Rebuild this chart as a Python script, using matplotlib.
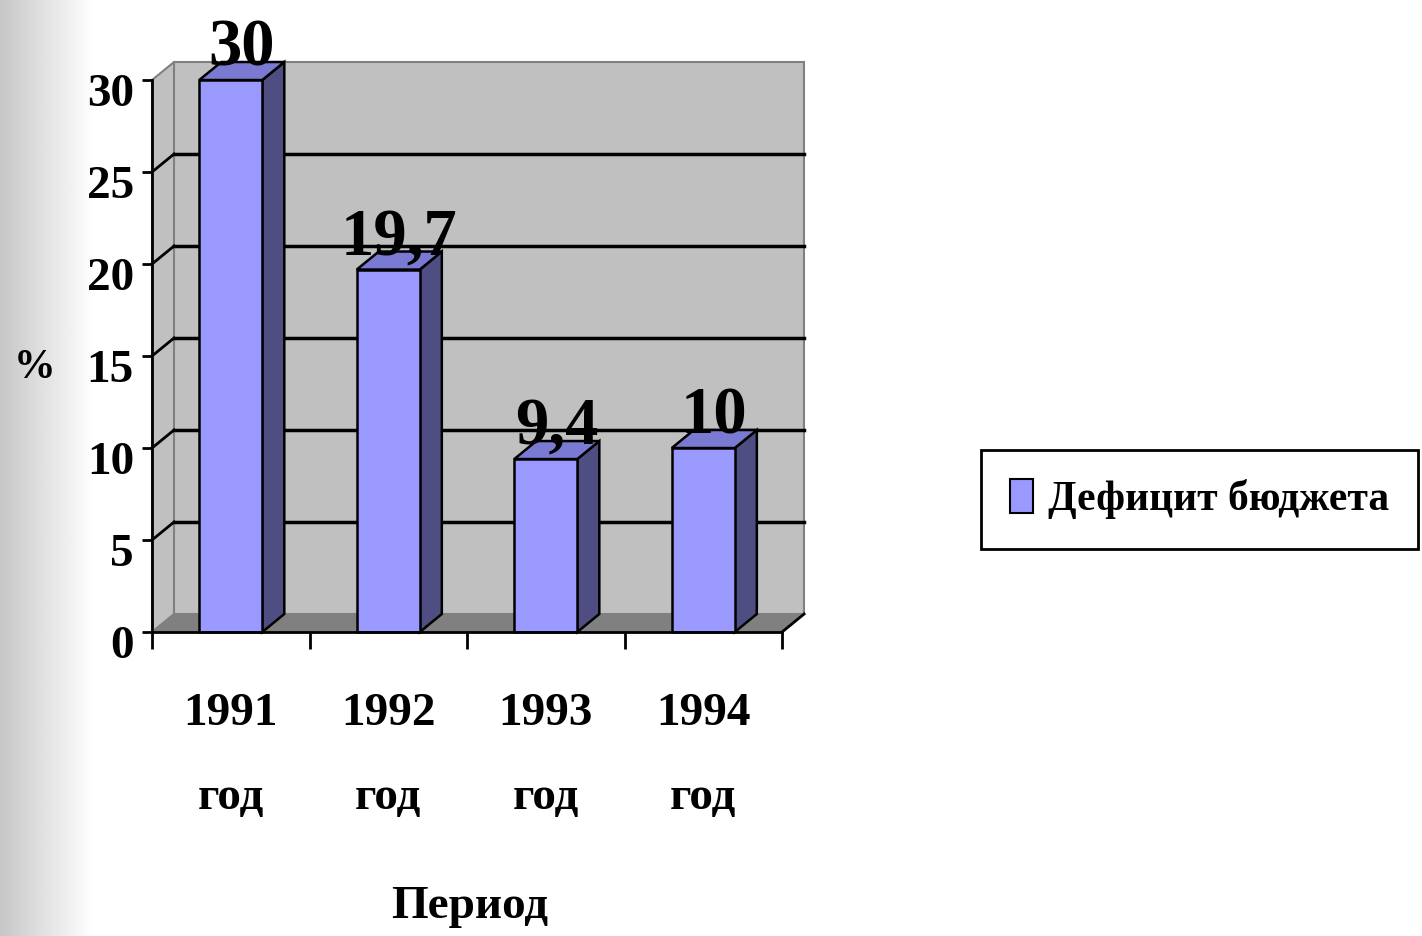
import matplotlib
matplotlib.use("Agg")
import matplotlib.pyplot as plt
from matplotlib.patches import Polygon, Rectangle, Patch
from matplotlib.transforms import ScaledTranslation
import numpy as np

plt.rcParams['font.family'] = ['Liberation Serif', 'DejaVu Serif']
plt.rcParams['font.weight'] = 'bold'

# data
years = ['1991', '1992', '1993', '1994']
deficit = [30, 19.7, 9.4, 10]
value_labels = ['30', '19,7', '9,4', '10']
yticks = [0, 5, 10, 15, 20, 25, 30]
series_name = 'Дефицит бюджета'

front_col = '#9999ff'
top_col = '#7a7ad2'
side_col = '#4e4e82'
wall_col = '#c0c0c0'
floor_col = '#808080'
edge_gray = '#808080'

fig = plt.figure(figsize=(14.22, 9.36), dpi=100)

# grey gradient strip on the left edge
bg = fig.add_axes([0, 0, 0.066, 1], zorder=-1)
grad = np.linspace(0.78, 1.0, 256).reshape(1, -1)
bg.imshow(grad, aspect='auto', cmap='gray', vmin=0, vmax=1, extent=(0, 1, 0, 1))
bg.axis('off')

ax = fig.add_axes([0, 0, 1, 1])
ax.patch.set_visible(False)
ax.set_xlim(-0.965, 8.063)
ax.set_ylim(-16.52, 34.35)

n = len(years)
ymax = 30
dx, dy = 0.14, 0.98   # depth offset of the 3d box
w = 0.4

# walls and floor
ax.add_patch(Polygon([(0, 0), (dx, dy), (dx, ymax + dy), (0, ymax)],
                     closed=True, fc=wall_col, ec=edge_gray, lw=1.5, zorder=1))
ax.add_patch(Rectangle((dx, dy), n, ymax, fc=wall_col, ec=edge_gray, lw=1.5, zorder=1))
ax.add_patch(Polygon([(0, 0), (n, 0), (n + dx, dy), (dx, dy)],
                     closed=True, fc=floor_col, ec=edge_gray, lw=1, zorder=1))
ax.plot([n, n + dx], [0, dy], color='black', lw=2, zorder=2)

# gridlines
for v in yticks[1:-1]:
    ax.plot([dx, n + dx], [v + dy, v + dy], color='black', lw=2.5, zorder=2)
    ax.plot([0, dx], [v, v + dy], color='black', lw=2, zorder=2)

# bars
xs = np.arange(n) + 0.5
ax.bar(xs, deficit, width=w, color=front_col, edgecolor='black', lw=1.8, zorder=4)
for x, v, lab in zip(xs, deficit, value_labels):
    r = x + w / 2
    l = x - w / 2
    ax.add_patch(Polygon([(r, 0), (r + dx, dy), (r + dx, v + dy), (r, v)],
                         closed=True, fc=side_col, ec='black', lw=1.8, zorder=3))
    ax.add_patch(Polygon([(l, v), (l + dx, v + dy), (r + dx, v + dy), (r, v)],
                         closed=True, fc=top_col, ec='black', lw=1.8, zorder=3))
    ax.text(x + dx / 2, v + dy - 0.2, lab, ha='center', va='baseline',
            fontsize=48, fontweight='bold', zorder=6)

# axes
for s in ['top', 'right']:
    ax.spines[s].set_visible(False)
ax.spines['left'].set_position(('data', 0))
ax.spines['left'].set_bounds(0, ymax)
ax.spines['bottom'].set_position(('data', 0))
ax.spines['bottom'].set_bounds(0, n)
ax.spines['left'].set_linewidth(2)
ax.spines['bottom'].set_linewidth(2)
ax.spines['left'].set_zorder(5)
ax.spines['bottom'].set_zorder(5)

ax.set_yticks(yticks)
ax.set_yticklabels([str(t) for t in yticks])
ax.tick_params(axis='y', direction='out', length=7, width=2, pad=6, labelsize=34)
shift = ScaledTranslation(0, -0.10, fig.dpi_scale_trans)
for lbl in ax.get_yticklabels():
    lbl.set_transform(lbl.get_transform() + shift)

ax.set_xticks(np.arange(n + 1))
ax.set_xticklabels([''] * (n + 1))
ax.tick_params(axis='x', which='major', direction='out', length=12, width=2)
ax.set_xticks(xs, minor=True)
ax.set_xticklabels([y + '\nгод' for y in years], minor=True, linespacing=2.3)
ax.tick_params(axis='x', which='minor', length=0, pad=44, labelsize=34)

fig.text(35 / 1422, 1 - 368 / 936, '%', ha='center', va='center', fontsize=30, fontweight='bold')
fig.text(470 / 1422, 1 - 907 / 936, 'Период', ha='center', va='center', fontsize=34, fontweight='bold')

leg = fig.legend(handles=[Patch(fc=front_col, ec='black', lw=1.5, label=series_name)],
                 loc='center right', bbox_to_anchor=(1418 / 1422, 1 - 499 / 936),
                 fontsize=30, frameon=True, fancybox=False, framealpha=1,
                 handlelength=0.55, handleheight=0.9, handletextpad=0.35,
                 borderpad=0.7, borderaxespad=0)
leg.get_frame().set_edgecolor('black')
leg.get_frame().set_linewidth(2)

fig.savefig('out.png', dpi=100)
